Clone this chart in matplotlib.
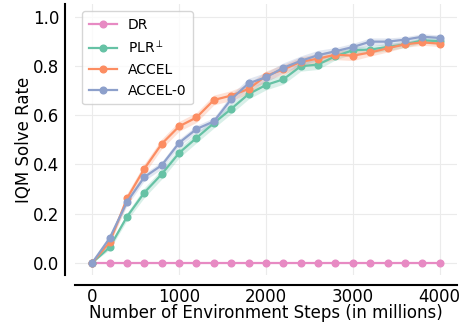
import numpy as np
import matplotlib
matplotlib.use("Agg")
import matplotlib.pyplot as plt

steps = [0, 200, 400, 600, 800, 1000, 1200, 1400, 1600, 1800, 2000,
         2200, 2400, 2600, 2800, 3000, 3200, 3400, 3600, 3800, 4000]

dr = [0.0] * 21
plr = [0.0, 0.063, 0.187, 0.285, 0.36, 0.446, 0.507, 0.567, 0.625, 0.685, 0.722,
       0.745, 0.798, 0.805, 0.839, 0.863, 0.866, 0.876, 0.887, 0.903, 0.90]
accel = [0.0, 0.083, 0.261, 0.382, 0.483, 0.554, 0.59, 0.661, 0.679, 0.706, 0.759,
         0.785, 0.816, 0.829, 0.845, 0.841, 0.854, 0.871, 0.887, 0.895, 0.89]
accel0 = [0.0, 0.10, 0.247, 0.348, 0.396, 0.487, 0.543, 0.574, 0.664, 0.729, 0.753,
          0.792, 0.82, 0.843, 0.859, 0.876, 0.898, 0.898, 0.906, 0.918, 0.913]

# rough half-widths of the shaded bands
plr_err = [0.0, 0.01, 0.015, 0.02, 0.02, 0.02, 0.02, 0.02, 0.02, 0.02, 0.02,
           0.02, 0.02, 0.02, 0.015, 0.015, 0.015, 0.015, 0.012, 0.012, 0.012]
accel_err = [0.0, 0.012, 0.02, 0.02, 0.02, 0.02, 0.02, 0.02, 0.02, 0.02, 0.02,
             0.02, 0.02, 0.02, 0.02, 0.02, 0.015, 0.015, 0.012, 0.012, 0.012]
accel0_err = [0.0, 0.012, 0.015, 0.015, 0.015, 0.015, 0.015, 0.015, 0.02, 0.02, 0.02,
              0.02, 0.02, 0.02, 0.015, 0.015, 0.015, 0.015, 0.012, 0.012, 0.012]

names = ["DR", "PLR$^{\\perp}$", "ACCEL", "ACCEL-0"]
colors = ["#e78ac3", "#66c2a5", "#fc8d62", "#8da0cb"]

fig = plt.figure(figsize=(4.65, 3.24), dpi=100)
ax = fig.add_axes([0.161, 0.151, 0.822, 0.836])

series = [(dr, None), (plr, plr_err), (accel, accel_err), (accel0, accel0_err)]
for (vals, err), name, c in zip(series, names, colors):
    vals = np.array(vals)
    ax.plot(steps, vals, "-o", color=c, lw=1.6, ms=4.8, label=name)
    if err is not None:
        err = np.array(err)
        ax.fill_between(steps, vals - err, vals + err, color=c, alpha=0.25, lw=0)

ax.set_xlim(-200, 4200)
ax.set_ylim(-0.05, 1.05)
ax.set_xticks([0, 1000, 2000, 3000, 4000])
ax.set_yticks([0.0, 0.2, 0.4, 0.6, 0.8, 1.0])
ax.grid(True, color="#ebebeb", lw=0.8)
ax.set_axisbelow(True)
ax.tick_params(axis="x", length=0, labelsize=12, pad=2)
ax.tick_params(axis="y", length=0, labelsize=12, pad=4)

for s in ["top", "right"]:
    ax.spines[s].set_visible(False)
for s in ["left", "bottom"]:
    ax.spines[s].set_position(("outward", 7))
    ax.spines[s].set_color("black")
    ax.spines[s].set_linewidth(1.5)

ax.set_xlabel("Number of Environment Steps (in millions)", fontsize=12, labelpad=-1)
ax.set_ylabel("IQM Solve Rate", fontsize=12, labelpad=0)
ax.legend(loc="upper left", fontsize=10, frameon=True, framealpha=0.8,
          edgecolor="#cccccc", handlelength=2.0, borderpad=0.5, labelspacing=0.5)

fig.savefig("out.png", dpi=100)
